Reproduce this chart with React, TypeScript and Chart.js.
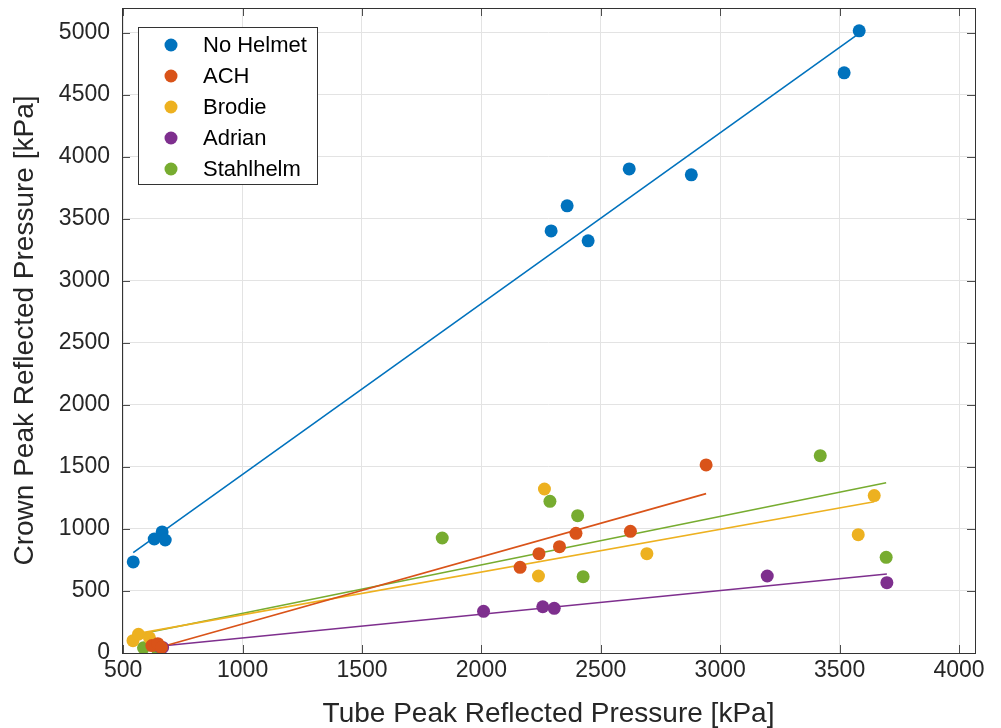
import React, { useEffect, useRef } from "react";
import { Chart, registerables } from "chart.js";
Chart.register(...registerables);

const FONT = "'Liberation Sans', Arial, Helvetica, sans-serif";

const xTicks = [500, 1000, 1500, 2000, 2500, 3000, 3500, 4000];
const yTicks = [0, 500, 1000, 1500, 2000, 2500, 3000, 3500, 4000, 4500, 5000];

const seriesNames = ["No Helmet", "ACH", "Brodie", "Adrian", "Stahlhelm"];
const seriesColors = ["#0072BD", "#D95319", "#EDB120", "#7E2F8E", "#77AC30"];

const noHelmetX = [542, 630, 663, 676, 2292, 2359, 2447, 2619, 2879, 3519, 3582];
const noHelmetY = [734, 919, 976, 911, 3403, 3605, 3323, 3903, 3855, 4677, 5016];

const achX = [620, 645, 660, 2162, 2241, 2327, 2396, 2624, 2941];
const achY = [60, 75, 45, 691, 801, 857, 965, 981, 1516];

const brodieX = [541, 564, 610, 2239, 2264, 2693, 3578, 3645];
const brodieY = [99, 151, 123, 621, 1322, 801, 954, 1269];

const adrianX = [650, 665, 2009, 2257, 2305, 3197, 3698];
const adrianY = [55, 45, 336, 373, 360, 621, 567];

const stahlhelmX = [585, 640, 1836, 2287, 2403, 2426, 3419, 3695];
const stahlhelmY = [42, 40, 927, 1223, 1107, 615, 1591, 771];

// fitted trend lines (end points)
const noHelmetFitX = [542, 3582];
const noHelmetFitY = [810, 4995];
const achFitX = [620, 2941];
const achFitY = [28, 1285];
const brodieFitX = [541, 3645];
const brodieFitY = [150, 1220];
const adrianFitX = [650, 3698];
const adrianFitY = [55, 637];
const stahlhelmFitX = [589, 3695];
const stahlhelmFitY = [159, 1373];

const seriesX = [noHelmetX, achX, brodieX, adrianX, stahlhelmX];
const seriesY = [noHelmetY, achY, brodieY, adrianY, stahlhelmY];
const fitX = [noHelmetFitX, achFitX, brodieFitX, adrianFitX, stahlhelmFitX];
const fitY = [noHelmetFitY, achFitY, brodieFitY, adrianFitY, stahlhelmFitY];

const zip = (xs: number[], ys: number[]) => xs.map((x, i) => ({ x, y: ys[i] }));

const frameLegendPlugin = {
  id: "frameLegend",
  afterDraw(chart: any) {
    const { ctx, chartArea } = chart;
    const { left, right, top, bottom } = chartArea;
    const xs = chart.scales.x;
    const ys = chart.scales.y;
    ctx.save();
    ctx.strokeStyle = "#4d4d4d";
    ctx.lineWidth = 1;
    ctx.beginPath();
    const tl = 8;
    xTicks.forEach((v) => {
      const px = Math.round(xs.getPixelForValue(v)) + 0.5;
      ctx.moveTo(px, bottom);
      ctx.lineTo(px, bottom - tl);
      ctx.moveTo(px, top);
      ctx.lineTo(px, top + tl);
    });
    yTicks.forEach((v) => {
      const py = Math.round(ys.getPixelForValue(v)) + 0.5;
      ctx.moveTo(left, py);
      ctx.lineTo(left + tl, py);
      ctx.moveTo(right, py);
      ctx.lineTo(right - tl, py);
    });
    ctx.stroke();
    ctx.strokeStyle = "#333333";
    ctx.strokeRect(Math.round(left) + 0.5, Math.round(top) + 0.5, Math.round(right - left), Math.round(bottom - top));

    // legend
    const lx = 138.5, ly = 27.5, lw = 179, lh = 157;
    ctx.fillStyle = "#ffffff";
    ctx.fillRect(lx, ly, lw, lh);
    ctx.strokeStyle = "#333333";
    ctx.strokeRect(lx, ly, lw, lh);
    ctx.font = `22px ${FONT}`;
    ctx.textBaseline = "middle";
    ctx.textAlign = "left";
    seriesNames.forEach((name, i) => {
      const cy = 45 + i * 31;
      ctx.fillStyle = seriesColors[i];
      ctx.beginPath();
      ctx.arc(171, cy, 6.5, 0, Math.PI * 2);
      ctx.fill();
      ctx.fillStyle = "#000000";
      ctx.fillText(name, 203, cy + 1);
    });
    ctx.restore();
  },
};

export default function App() {
  const ref = useRef<HTMLCanvasElement>(null);
  useEffect(() => {
    if (!ref.current) return;
    const datasets: any[] = [];
    seriesNames.forEach((name, i) => {
      datasets.push({
        type: "scatter",
        label: name,
        data: zip(seriesX[i], seriesY[i]),
        backgroundColor: seriesColors[i],
        borderColor: seriesColors[i],
        borderWidth: 0,
        pointRadius: 6.5,
        pointHoverRadius: 6.5,
        order: 1,
      });
    });
    seriesNames.forEach((name, i) => {
      datasets.push({
        type: "line",
        label: name + " fit",
        data: zip(fitX[i], fitY[i]),
        borderColor: seriesColors[i],
        backgroundColor: seriesColors[i],
        borderWidth: 1.6,
        pointRadius: 0,
        fill: false,
        order: 2,
      });
    });
    const chart = new Chart(ref.current, {
      type: "scatter",
      data: { datasets },
      plugins: [frameLegendPlugin],
      options: {
        animation: false,
        responsive: false,
        maintainAspectRatio: false,
        layout: { padding: { top: 8, right: 26, left: 0, bottom: 0 } },
        plugins: { legend: { display: false }, tooltip: { enabled: false } },
        scales: {
          x: {
            type: "linear",
            min: 495,
            max: 4067,
            afterBuildTicks: (s: any) => {
              s.ticks = xTicks.map((v) => ({ value: v }));
            },
            afterFit: (s: any) => {
              s.height = 75;
              s.paddingLeft = 0;
              s.paddingRight = 0;
            },
            grid: { color: "#e3e3e3", drawTicks: false },
            border: { display: false },
            ticks: {
              color: "#262626",
              font: { family: FONT, size: 23 },
              padding: 4,
              maxRotation: 0,
              autoSkip: false,
              callback: (v: any) => String(v),
            },
            title: {
              display: true,
              text: "Tube Peak Reflected Pressure [kPa]",
              color: "#262626",
              font: { family: FONT, size: 28, lineHeight: 1 },
              padding: 0,
            },
          },
          y: {
            type: "linear",
            min: 0,
            max: 5200,
            afterBuildTicks: (s: any) => {
              s.ticks = yTicks.map((v) => ({ value: v }));
            },
            afterFit: (s: any) => {
              s.width = 122;
              s.paddingTop = 0;
              s.paddingBottom = 0;
            },
            grid: { color: "#e3e3e3", drawTicks: false },
            border: { display: false },
            ticks: {
              color: "#262626",
              font: { family: FONT, size: 23 },
              padding: 12,
              autoSkip: false,
              callback: (v: any) => String(v),
            },
            title: {
              display: true,
              text: "Crown Peak Reflected Pressure [kPa]",
              color: "#262626",
              font: { family: FONT, size: 28, lineHeight: 1.2 },
              padding: { top: 8, bottom: 0 },
            },
          },
        },
      },
    });
    return () => chart.destroy();
  }, []);
  return (
    <div style={{ position: "absolute", left: 0, top: 0, width: 1001, height: 728, background: "#fff" }}>
      <canvas ref={ref} width={1001} height={728} style={{ display: "block" }} />
    </div>
  );
}
